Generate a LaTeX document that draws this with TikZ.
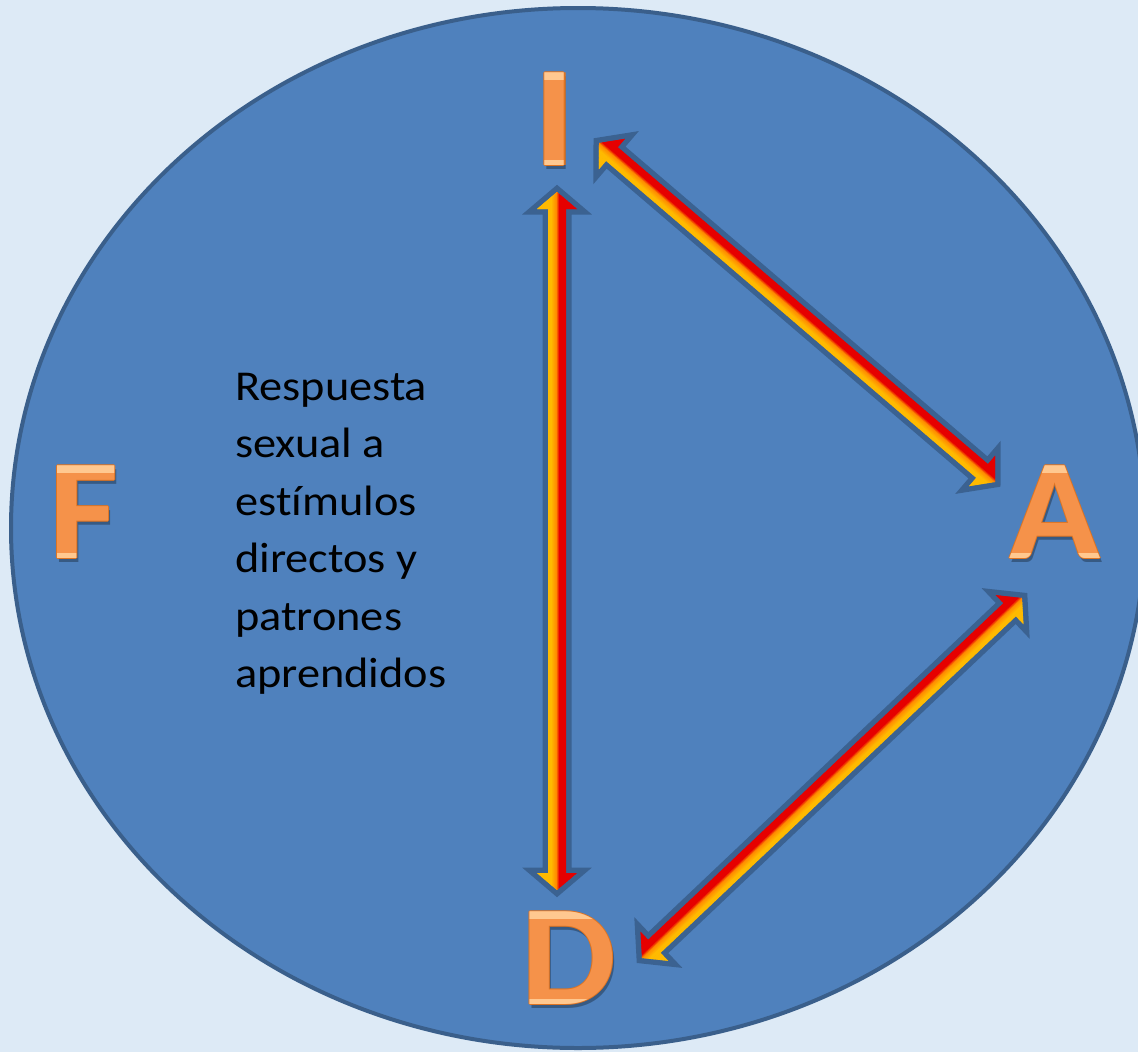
\documentclass[tikz,border=0pt]{standalone}
\usepackage{fontspec}
\setmainfont{Carlito}[Ligatures={NoCommon}]
\usepackage{graphicx}
\usetikzlibrary{calc}
\definecolor{bgc}{HTML}{DDEAF6}
\definecolor{circfill}{HTML}{4F81BD}
\definecolor{circline}{HTML}{3A5F8B}
\definecolor{arrline}{HTML}{3B6291}
\definecolor{letterc}{HTML}{F5924A}
\definecolor{letterhl}{HTML}{FFC890}
\definecolor{letteredge}{HTML}{DE7422}
\definecolor{arrY}{HTML}{FFBA00}
\definecolor{arrO}{HTML}{FF8A00}
\definecolor{arrR}{HTML}{E60000}
\tikzset{
  lettersty/.style={font=\fontsize{143}{143}\selectfont\bfseries, inner sep=0pt},
  bodytext/.style={font=\fontsize{42.5}{57.5}\selectfont, align=left, inner sep=0pt, text=black},
  arroutline/.style={draw=arrline, line width=11pt, line join=miter, fill=arrline},
}
% double arrow between two named coordinates; positive side (left of a->b) is red
\newcommand\dblarr[3]{%
  \coordinate (#1a1) at ($(#2)!17pt!(#3)$);
  \coordinate (#1b1) at ($(#3)!17pt!(#2)$);
  \coordinate (#1p2) at ($(#1a1)!20pt!90:(#3)$);
  \coordinate (#1p3) at ($(#1a1)!9pt!90:(#3)$);
  \coordinate (#1p4) at ($(#1b1)!9pt!-90:(#2)$);
  \coordinate (#1p5) at ($(#1b1)!20pt!-90:(#2)$);
  \coordinate (#1p7) at ($(#1b1)!20pt!90:(#2)$);
  \coordinate (#1p8) at ($(#1b1)!9pt!90:(#2)$);
  \coordinate (#1p9) at ($(#1a1)!9pt!-90:(#3)$);
  \coordinate (#1p10) at ($(#1a1)!20pt!-90:(#3)$);
  \path[arroutline] (#2) -- (#1p2) -- (#1p3) -- (#1p4) -- (#1p5) -- (#3) -- (#1p7) -- (#1p8) -- (#1p9) -- (#1p10) -- cycle;
  \begin{scope}
    \clip (#2) -- (#1p2) -- (#1p3) -- (#1p4) -- (#1p5) -- (#3) -- (#1p7) -- (#1p8) -- (#1p9) -- (#1p10) -- cycle;
    \foreach \kk in {-21,...,21}{
      \pgfmathtruncatemacro\pa{min(max((\kk+5)*20,0),100)}
      \pgfmathtruncatemacro\pb{min(max(\kk*34,0),100)}
      \colorlet{stripe}{arrR!\pb!arrO!\pa!arrY}
      \draw[stripe, line width=1.6pt] ($(#2)!\kk pt!90:(#3)$) -- ($(#3)!\kk pt!-90:(#2)$);
    }
  \end{scope}
}
\newcommand\bigletter[3]{% name, position, letter
  \node[lettersty, text=black, opacity=0.3] at ($(#2)+(2,4)$) {\scalebox{1.05}[1]{#3}};
  \foreach \dx/\dy in {-1.3/0,1.3/0,0/-1.3,0/1.3}{
    \node[lettersty, text=letteredge] at ($(#2)+(\dx,\dy)$) {\scalebox{1.05}[1]{#3}};
  }
  \node[lettersty, text=letterc] (#1) at (#2) {\scalebox{1.05}[1]{#3}};
  \begin{scope}
    \clip ($(#1.north west)+(-10,-3)$) rectangle ($(#1.north east)+(10,7)$);
    \node[lettersty, text=letterhl] at (#2) {\scalebox{1.05}[1]{#3}};
  \end{scope}
  \begin{scope}
    \clip ($(#1.south west)+(-10,-5)$) rectangle ($(#1.south east)+(10,3)$);
    \node[lettersty, text=letterhl] at (#2) {\scalebox{1.05}[1]{#3}};
  \end{scope}
}
\begin{document}
\begin{tikzpicture}[x=1pt,y=-1pt]
  \useasboundingbox (0,0) rectangle (1138,1052);
  \fill[bgc] (0,0) rectangle (1138,1052);
  \draw[circline, fill=circfill, line width=4pt] (578,528) ellipse [x radius=567, y radius=520];

  \coordinate (posI) at (555,119);
  \coordinate (posA) at (1055,512);
  \coordinate (posD) at (569,958);
  \coordinate (posF) at (84,512);
  \bigletter{I}{posI}{I}
  \bigletter{A}{posA}{A}
  \bigletter{D}{posD}{D}
  \bigletter{F}{posF}{F}

  \node[bodytext, anchor=base west] (txt) at (235,687.5)
    {\scalebox{1.09}[1]{Respuesta}\\\scalebox{1.09}[1]{sexual a}\\\scalebox{1.09}[1]{es\kern0pt t\kern0pt ímulos}\\\scalebox{1.09}[1]{directos y}\\\scalebox{1.09}[1]{patrones}\\\scalebox{1.09}[1]{aprendidos}};

  \coordinate (IDtop) at (557,192);
  \coordinate (IDbot) at (557,890);
  \coordinate (IAi) at (599,143);
  \coordinate (IAa) at (995,482);
  \coordinate (ADd) at (642,958);
  \coordinate (ADa) at (1022,598);
  \dblarr{vid}{IDtop}{IDbot}
  \dblarr{dia}{IAi}{IAa}
  \dblarr{dad}{ADd}{ADa}
\end{tikzpicture}
\end{document}
